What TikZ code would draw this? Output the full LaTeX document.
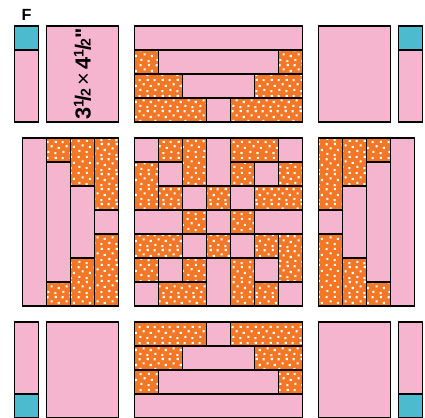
\documentclass[tikz,border=0pt]{standalone}
\usepackage{fontspec}
\setmainfont{Liberation Sans}[Ligatures=TeXOff]
\usetikzlibrary{patterns.meta}
\definecolor{qpink}{HTML}{F5B5CE}
\definecolor{qorange}{HTML}{F27726}
\definecolor{qblue}{HTML}{4CBBCE}

% white dots on the orange print
\tikzdeclarepattern{
  name=fabricdots,
  type=uncolored,
  bounding box={(0pt,0pt) and (11pt,11pt)},
  tile size={(11pt,11pt)},
  code={
    \fill (1pt,1.5pt) rectangle ++(1.5pt,1.5pt);
    \fill (6.2pt,0.6pt) rectangle ++(1.5pt,1.5pt);
    \fill (3.4pt,5.6pt) rectangle ++(1.5pt,1.5pt);
    \fill (8.6pt,4.4pt) rectangle ++(1.5pt,1.5pt);
    \fill (0.4pt,8.6pt) rectangle ++(1.5pt,1.5pt);
    \fill (6.4pt,8.8pt) rectangle ++(1.5pt,1.5pt);
  }
}

\newcommand{\halfinch}{\raisebox{0.33em}{\fontsize{10}{10}\selectfont 1}\kern-0.08em/\kern-0.08em{\fontsize{10}{10}\selectfont 2}}

\begin{document}
\begin{tikzpicture}[
  x=0.6cm, y=0.6cm,
  patch/.style={draw=black, line width=0.9pt},
  pinkpatch/.style={patch, fill=qpink},
  bluepatch/.style={patch, fill=qblue},
  orangepatch/.style={patch, preaction={fill=qorange}, pattern=fabricdots,
    pattern color=white},
  sizetext/.style={rotate=90, font=\bfseries\fontsize{15.5}{15.5}\selectfont}
]
  \useasboundingbox (-5.604,-4.65) rectangle (12.104,12.75);

  % Center block
  \foreach \x/\y/\w/\h in {0/6/1/1, 3/5/1/2, 6/6/1/1, 1/5/1/1, 5/5/1/1, 2/4/1/1,
      4/4/1/1, 0/3/2/1, 3/3/1/1, 5/3/2/1, 2/2/1/1, 4/2/1/1, 1/1/1/1, 3/0/1/2,
      5/1/1/1, 0/0/1/1, 6/0/1/1}
    \draw[pinkpatch] (\x,\y) rectangle ++(\w,\h);
  \foreach \x/\y/\w/\h in {1/6/1/1, 2/5/1/2, 4/6/2/1, 0/4/1/2, 4/5/1/1, 6/5/1/1,
      1/4/1/1, 3/4/1/1, 5/4/2/1, 2/3/1/1, 4/3/1/1, 0/2/2/1, 3/2/1/1, 5/2/1/1,
      6/1/1/2, 0/1/1/1, 2/1/1/1, 4/0/1/2, 1/0/2/1, 5/0/1/1}
    \draw[orangepatch] (\x,\y) rectangle ++(\w,\h);

  % Top block
  \begin{scope}[shift={(0,7.667)}]
    \draw[pinkpatch] (0,3) rectangle (7,4);
    \foreach \k in {1,2,3} {
      \draw[orangepatch] (0,3-\k) rectangle (\k,4-\k);
      \draw[pinkpatch] (\k,3-\k) rectangle (7-\k,4-\k);
      \draw[orangepatch] (7-\k,3-\k) rectangle (7,4-\k);
    }
  \end{scope}

  % Bottom block
  \begin{scope}[shift={(0,-4.667)}]
    \draw[pinkpatch] (0,0) rectangle (7,1);
    \foreach \k in {1,2,3} {
      \draw[orangepatch] (0,\k) rectangle (\k,\k+1);
      \draw[pinkpatch] (\k,\k) rectangle (7-\k,\k+1);
      \draw[orangepatch] (7-\k,\k) rectangle (7,\k+1);
    }
  \end{scope}

  % Left block
  \begin{scope}[shift={(-4.667,0)}]
    \draw[pinkpatch] (0,0) rectangle (1,7);
    \foreach \k in {1,2,3} {
      \draw[orangepatch] (\k,7-\k) rectangle (\k+1,7);
      \draw[pinkpatch] (\k,\k) rectangle (\k+1,7-\k);
      \draw[orangepatch] (\k,0) rectangle (\k+1,\k);
    }
  \end{scope}

  % Right block
  \begin{scope}[shift={(7.667,0)}]
    \draw[pinkpatch] (3,0) rectangle (4,7);
    \foreach \k in {1,2,3} {
      \draw[orangepatch] (3-\k,7-\k) rectangle (4-\k,7);
      \draw[pinkpatch] (3-\k,\k) rectangle (4-\k,7-\k);
      \draw[orangepatch] (3-\k,0) rectangle (4-\k,\k);
    }
  \end{scope}

  % Corner pieces, top
  \draw[pinkpatch] (-5,7.667) rectangle (-4,10.667);
  \draw[bluepatch] (-5,10.667) rectangle (-4,11.667);
  \draw[pinkpatch] (-3.667,7.667) rectangle (-0.667,11.667);
  \draw[pinkpatch] (7.667,7.667) rectangle (10.667,11.667);
  \draw[pinkpatch] (11,7.667) rectangle (12,10.667);
  \draw[bluepatch] (11,10.667) rectangle (12,11.667);

  % Corner pieces, bottom
  \draw[pinkpatch] (-5,-3.667) rectangle (-4,-0.667);
  \draw[bluepatch] (-5,-4.667) rectangle (-4,-3.667);
  \draw[pinkpatch] (-3.667,-4.667) rectangle (-0.667,-0.667);
  \draw[pinkpatch] (7.667,-4.667) rectangle (10.667,-0.667);
  \draw[pinkpatch] (11,-3.667) rectangle (12,-0.667);
  \draw[bluepatch] (11,-4.667) rectangle (12,-3.667);

  % Labels
  \node[anchor=base, font=\bfseries\fontsize{11.5}{11.5}\selectfont] (flabel)
    at (-4.5,11.9) {F};
  \node[sizetext] (sizelabel) at (-2.167,9.667)
    {3\halfinch\,{\mdseries ×}\,4\halfinch"};

\end{tikzpicture}
\end{document}
